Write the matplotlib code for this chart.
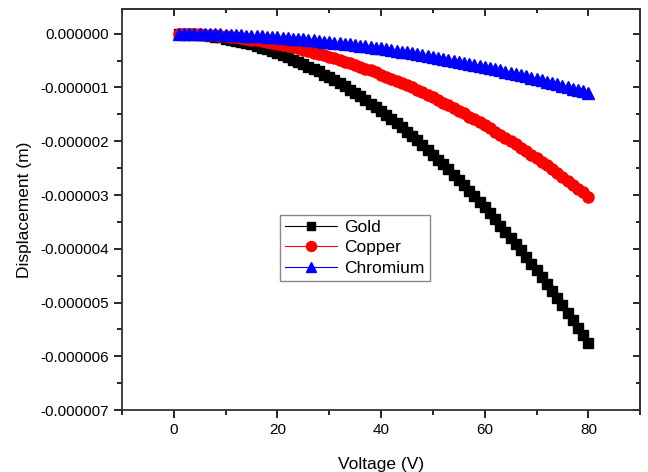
import matplotlib
matplotlib.use("Agg")
from matplotlib import pyplot as plt
from matplotlib.ticker import MultipleLocator, FormatStrFormatter
import numpy as np

plt.rcParams['font.family'] = ['Liberation Sans', 'DejaVu Sans']

# tensao aplicada (V)
voltage = list(range(1, 81))

# deslocamento em micrometros (sinal negativo aplicado abaixo)
gold_um = [
    0.00, 0.00, 0.01, 0.01, 0.02, 0.03, 0.04, 0.06, 0.07, 0.09,
    0.11, 0.13, 0.15, 0.18, 0.20, 0.23, 0.26, 0.29, 0.32, 0.36,
    0.40, 0.43, 0.48, 0.52, 0.56, 0.61, 0.65, 0.70, 0.76, 0.81,
    0.86, 0.92, 0.98, 1.04, 1.10, 1.16, 1.23, 1.30, 1.37, 1.44,
    1.51, 1.58, 1.66, 1.74, 1.82, 1.90, 1.98, 2.07, 2.16, 2.25,
    2.34, 2.43, 2.52, 2.62, 2.72, 2.82, 2.92, 3.02, 3.13, 3.23,
    3.34, 3.45, 3.57, 3.68, 3.80, 3.91, 4.03, 4.15, 4.28, 4.40,
    4.53, 4.66, 4.79, 4.92, 5.05, 5.19, 5.33, 5.47, 5.61, 5.75,
]
copper_um = [
    0.00, 0.00, 0.00, 0.01, 0.01, 0.02, 0.02, 0.03, 0.04, 0.05,
    0.06, 0.07, 0.08, 0.09, 0.11, 0.12, 0.14, 0.15, 0.17, 0.19,
    0.21, 0.23, 0.25, 0.27, 0.30, 0.32, 0.35, 0.37, 0.40, 0.43,
    0.45, 0.48, 0.52, 0.55, 0.58, 0.61, 0.65, 0.68, 0.72, 0.76,
    0.80, 0.84, 0.88, 0.92, 0.96, 1.00, 1.05, 1.09, 1.14, 1.18,
    1.23, 1.28, 1.33, 1.38, 1.43, 1.48, 1.54, 1.59, 1.65, 1.70,
    1.76, 1.82, 1.88, 1.94, 2.00, 2.06, 2.13, 2.19, 2.25, 2.32,
    2.39, 2.45, 2.52, 2.59, 2.66, 2.73, 2.81, 2.88, 2.95, 3.03,
]
chromium_um = [
    0.000, 0.001, 0.002, 0.003, 0.004, 0.006, 0.008, 0.011, 0.014, 0.017,
    0.021, 0.025, 0.029, 0.034, 0.039, 0.044, 0.050, 0.056, 0.062, 0.069,
    0.076, 0.083, 0.091, 0.099, 0.107, 0.116, 0.125, 0.135, 0.145, 0.155,
    0.165, 0.176, 0.187, 0.199, 0.211, 0.223, 0.235, 0.248, 0.261, 0.275,
    0.289, 0.303, 0.318, 0.333, 0.348, 0.364, 0.380, 0.396, 0.413, 0.430,
    0.447, 0.465, 0.483, 0.501, 0.520, 0.539, 0.558, 0.578, 0.598, 0.619,
    0.640, 0.661, 0.682, 0.704, 0.726, 0.749, 0.772, 0.795, 0.818, 0.842,
    0.866, 0.891, 0.916, 0.941, 0.967, 0.993, 1.019, 1.046, 1.073, 1.100,
]

# converte para metros
gold = -np.array(gold_um) * 1e-6
copper = -np.array(copper_um) * 1e-6
chromium = -np.array(chromium_um) * 1e-6

fig = plt.figure(figsize=(6.48, 4.72), dpi=100)
ax = fig.add_axes([0.188, 0.131, 0.800, 0.850])

ax.plot(voltage, gold, color='black', marker='s', markersize=6.5,
        linewidth=0.8, label='Gold')
ax.plot(voltage, copper, color='red', marker='o', markersize=8,
        linewidth=0.8, label='Copper')
ax.plot(voltage, chromium, color='blue', marker='^', markersize=8.5,
        linewidth=0.8, label='Chromium')

ax.set_xlim(-10, 90)
ax.set_ylim(-7e-6, 0.46e-6)

ax.xaxis.set_major_locator(MultipleLocator(20))
ax.xaxis.set_minor_locator(MultipleLocator(10))
ax.yaxis.set_major_locator(MultipleLocator(1e-6))
ax.yaxis.set_minor_locator(MultipleLocator(0.5e-6))
ax.yaxis.set_major_formatter(FormatStrFormatter('%.6f'))
ax.set_xticks(range(0, 81, 20))

# eixos estilo Origin: ticks para fora em baixo/esquerda
ax.tick_params(axis='both', which='major', direction='out', length=6,
               width=1.2, labelsize=11, colors='black')
ax.tick_params(axis='both', which='minor', direction='out', length=3.5,
               width=1.2)
for sp in ax.spines.values():
    sp.set_linewidth(1.3)
    sp.set_color('#333333')

# ticks internos no topo e na direita via eixos secundarios
top = ax.secondary_xaxis('top')
top.set_xticks(range(0, 81, 20))
top.xaxis.set_minor_locator(MultipleLocator(10))
top.tick_params(which='major', direction='in', length=5, width=1.2, labeltop=False)
top.tick_params(which='minor', direction='in', length=3, width=1.2)
top.spines['top'].set_linewidth(1.3)
top.spines['top'].set_color('#333333')
right = ax.secondary_yaxis('right')
right.yaxis.set_major_locator(MultipleLocator(1e-6))
right.yaxis.set_minor_locator(MultipleLocator(0.5e-6))
right.tick_params(which='major', direction='in', length=5, width=1.2, labelright=False)
right.tick_params(which='minor', direction='in', length=3, width=1.2)
right.spines['right'].set_linewidth(1.3)
right.spines['right'].set_color('#333333')
ax.tick_params(which='both', top=False, right=False)

ax.set_xlabel('Voltage (V)', fontsize=12.5, labelpad=14)
ax.set_ylabel('Displacement (m)', fontsize=12.5, labelpad=6)

leg = ax.legend(loc='center', bbox_to_anchor=(0.45, 0.405), fontsize=12.5,
                fancybox=False, edgecolor='#888888', framealpha=1,
                handlelength=3.0, borderpad=0.3, labelspacing=0.3,
                handletextpad=0.4, borderaxespad=0, markerscale=0.9)
leg.get_frame().set_linewidth(1.0)

fig.savefig('out.png', dpi=100)
